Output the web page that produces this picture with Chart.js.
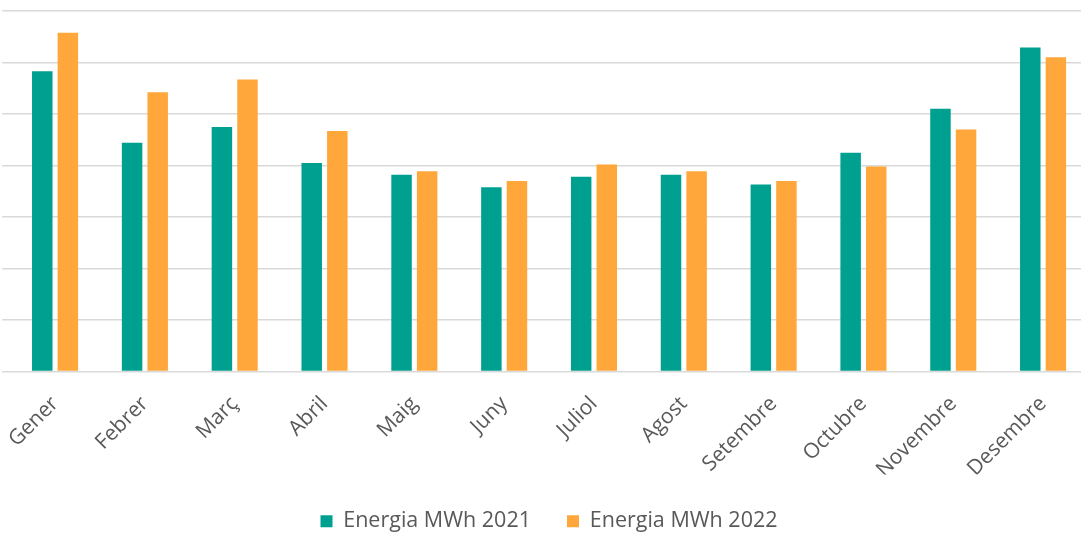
<!DOCTYPE html>
<html>
<head>
<meta charset="utf-8">
<script src="https://cdn.jsdelivr.net/npm/chart.js@4"></script>
<style>
  html, body { margin: 0; padding: 0; background: #fff; overflow: hidden; }
</style>
</head>
<body>
<canvas id="energyChart" width="1088" height="534"></canvas>
<script>
const months = ['Gener', 'Febrer', 'Març', 'Abril', 'Maig', 'Juny', 'Juliol', 'Agost', 'Setembre', 'Octubre', 'Novembre', 'Desembre'];
const energy2021 = [583, 444, 475, 405, 382, 358, 378, 382, 363, 425, 510, 629];
const energy2022 = [658, 542, 567, 467, 389, 370, 402, 389, 370, 398, 470, 610];

const ctx = document.getElementById('energyChart').getContext('2d');

const energyChart = new Chart(ctx, {
  type: 'bar',
  data: {
    labels: months,
    datasets: [
      {
        label: 'Energia MWh 2021',
        data: energy2021,
        backgroundColor: '#00a090',
        categoryPercentage: 0.57,
        barPercentage: 0.8,
      },
      {
        label: 'Energia MWh 2022',
        data: energy2022,
        backgroundColor: '#ffa73b',
        categoryPercentage: 0.57,
        barPercentage: 0.8,
      },
    ],
  },
  options: {
    responsive: false,
    animation: false,
    devicePixelRatio: 1,
    layout: {
      padding: { top: 11, left: 10, right: 0, bottom: -8 },
    },
    plugins: {
      tooltip: { enabled: false },
      legend: {
        position: 'bottom',
        labels: {
          boxWidth: 12,
          boxHeight: 12,
          padding: 36,
          color: '#595959',
          font: { family: 'Open Sans', size: 21.5 },
        },
      },
    },
    scales: {
      x: {
        grid: { display: false },
        border: { display: false },
        ticks: {
          minRotation: 45,
          maxRotation: 45,
          padding: 12,
          color: '#595959',
          font: { family: 'Open Sans', size: 21 },
        },
        afterFit: (scale) => {
          scale.height = 103;
        },
      },
      y: {
        min: 0,
        max: 700,
        ticks: { display: false, stepSize: 100 },
        border: { display: false },
        grid: { color: '#d9d9d9', lineWidth: 1.5 },
        afterFit: (scale) => {
          scale.width = 0;
        },
      },
    },
  },
});
</script>
</body>
</html>
